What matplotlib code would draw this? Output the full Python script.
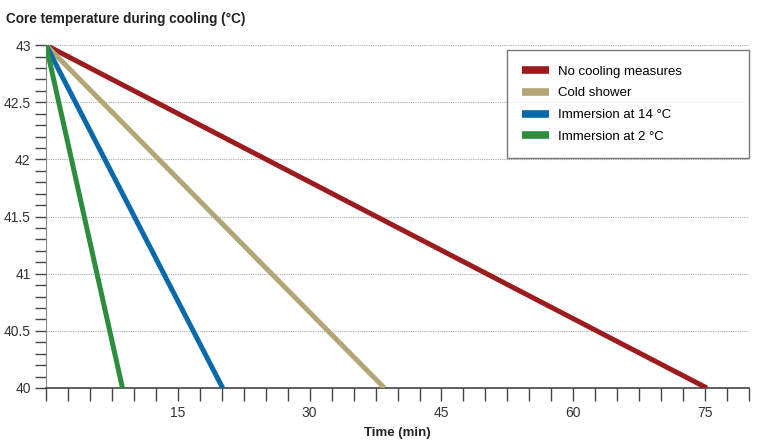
import matplotlib
matplotlib.use('Agg')
import matplotlib.pyplot as plt
from matplotlib.ticker import MultipleLocator

plt.rcParams['font.family'] = ['Liberation Sans', 'DejaVu Sans']

# Linear cooling from 43 °C down to 40 °C
labels = ['No cooling measures', 'Cold shower', 'Immersion at 14 °C', 'Immersion at 2 °C']
end_times = [75.2, 38.5, 20.1, 8.7]
start_temp = 43
end_temp = 40
colors = ['#9b1b1e', '#b3a676', '#0a69a8', '#2c8d3f']

fig = plt.figure(figsize=(7.58, 4.47), dpi=100)
ax = fig.add_axes([0.0607, 0.132, 0.9275, 0.767])

for lab, t, c in zip(labels, end_times, colors):
    ax.plot([0, t], [start_temp, end_temp], color=c, lw=3.6, label=lab,
            solid_capstyle='butt', zorder=3)

ax.set_xlim(0, 80)
ax.set_ylim(40, 43)
ax.xaxis.set_minor_locator(MultipleLocator(2.5))
ax.yaxis.set_minor_locator(MultipleLocator(0.1))
ax.set_xticks([15, 30, 45, 60, 75])
ax.set_yticks([40, 40.5, 41, 41.5, 42, 42.5, 43])
ax.set_yticklabels(['40', '40.5', '41', '41.5', '42', '42.5', '43'])

ax.grid(axis='y', which='major', linestyle=(0, (1, 1)), color='#aaaaaa', lw=0.8)
for s in ['top', 'right']:
    ax.spines[s].set_visible(False)
ax.spines['left'].set_color('#888888')
ax.spines['bottom'].set_color('#444444')
ax.spines['bottom'].set_linewidth(1.2)

ax.tick_params(axis='x', which='both', direction='out', length=9, width=1, color='#444444',
               labelsize=10, labelcolor='#333333', pad=4)
ax.tick_params(axis='y', which='both', direction='out', length=8, width=1, color='#444444',
               labelsize=10, labelcolor='#333333', pad=3)

ax.set_xlabel('Time (min)', fontsize=9.5, fontweight='bold', color='#222222', labelpad=5)
fig.text(0.008, 0.958, 'Core temperature during cooling (°C)', fontsize=9.8,
         fontweight='bold', color='#222222', va='center', ha='left')

leg = ax.legend(loc='upper left', bbox_to_anchor=(0.656, 0.685, 0.344, 0.30), mode='expand',
                fontsize=9.5, frameon=True, fancybox=False, handlelength=2.0, borderpad=1.15,
                labelspacing=0.72, handletextpad=0.7, borderaxespad=0.0)
leg.get_frame().set_edgecolor('#555555')
leg.get_frame().set_linewidth(1)
for h in leg.get_lines():
    h.set_linewidth(5.5)

fig.savefig('out.png', dpi=100)
